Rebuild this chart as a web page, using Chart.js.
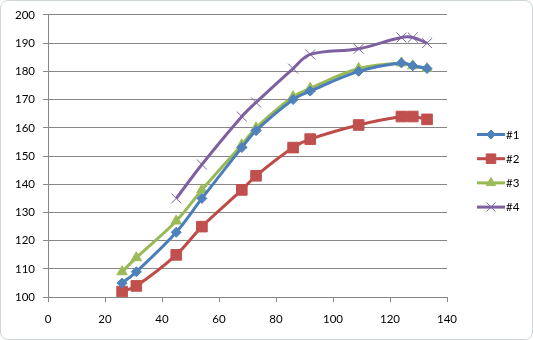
<!DOCTYPE html>
<html><head><meta charset="utf-8">
<script src="https://cdn.jsdelivr.net/npm/chart.js@4/dist/chart.umd.min.js"></script>
<style>
html,body{margin:0;padding:0;background:#fff;}
#wrap{position:relative;width:533px;height:340px;}
#frame{position:absolute;left:0;top:0;width:533px;height:340px;box-sizing:border-box;border:1px solid #CFD6D6;border-radius:8px;pointer-events:none;}
canvas{display:block}
</style></head><body>
<div id="wrap"><canvas id="c" width="533" height="340"></canvas><div id="frame"></div></div>
<script>
// ---- data ----
const seriesNames = ['#1', '#2', '#3', '#4'];
const xValues  = [26, 31, 45, 54, 68, 73, 86, 92, 109, 124, 128, 133];
const series1  = [105, 109, 123, 135, 153, 159, 170, 173, 180, 183, 182, 181];
const series2  = [102, 104, 115, 125, 138, 143, 153, 156, 161, 164, 164, 163];
const series3  = [109, 114, 127, 138, 154, 160, 171, 174, 181, 183, 182, 181];
const xValues4 = [45, 54, 68, 73, 86, 92, 109, 124, 128, 133];
const series4  = [135, 147, 164, 169, 181, 186, 188, 192, 192, 190];
const xTicks = [0, 20, 40, 60, 80, 100, 120, 140];
const yTicks = [100, 110, 120, 130, 140, 150, 160, 170, 180, 190, 200];

const FONT = 'Lato';
const FS = 11.5;
const GRID = '#878787';

function pts(xs, ys) { return xs.map((x, i) => ({x: x, y: ys[i]})); }

function mkDs(label, data, line, fill, style, radius, bw) {
  return {
    label: label, data: data, showLine: true,
    borderColor: line, backgroundColor: fill, borderWidth: 3,
    tension: 0.35,
    pointStyle: style, pointRadius: radius, pointHoverRadius: radius,
    pointBackgroundColor: fill, pointBorderColor: style === 'crossRot' ? line : fill,
    pointBorderWidth: bw
  };
}

const datasets = [
  mkDs(seriesNames[0], pts(xValues, series1), '#4A7EBB', '#4F81BD', 'rectRot', 5, 1),
  mkDs(seriesNames[1], pts(xValues, series2), '#BE4B48', '#C0504D', 'rect', 7.5, 1),
  mkDs(seriesNames[2], pts(xValues, series3), '#98B954', '#9BBB59', 'triangle', 6, 1),
  mkDs(seriesNames[3], pts(xValues4, series4), '#7D60A0', '#8064A2', 'crossRot', 7, 1)
];

const sideLegend = {
  id: 'sideLegend',
  afterDraw(chart) {
    const ctx = chart.ctx;
    const top = 134.5, step = 24.2, x0 = 477, x1 = 505;
    chart.data.datasets.forEach((ds, i) => {
      const y = top + i * step;
      ctx.save();
      ctx.strokeStyle = ds.borderColor;
      ctx.lineWidth = 3;
      ctx.beginPath(); ctx.moveTo(x0, y); ctx.lineTo(x1, y); ctx.stroke();
      ctx.fillStyle = ds.pointBackgroundColor;
      ctx.strokeStyle = ds.pointBorderColor;
      ctx.lineWidth = ds.pointBorderWidth;
      Chart.helpers.drawPoint(ctx, {pointStyle: ds.pointStyle, radius: ds.pointRadius * 0.9,
        borderWidth: ds.pointBorderWidth, rotation: 0}, (x0 + x1) / 2, y);
      ctx.fillStyle = '#000';
      ctx.font = FS + 'px ' + FONT;
      ctx.textBaseline = 'middle';
      ctx.textAlign = 'left';
      ctx.fillText(ds.label, x1 + 1, y + 0.5);
      ctx.restore();
    });
  }
};

new Chart(document.getElementById('c'), {
  type: 'scatter',
  data: { datasets: datasets },
  options: {
    responsive: false, animation: false, devicePixelRatio: 1,
    layout: { padding: { left: 7, top: 7.5, right: 86, bottom: 4 } },
    plugins: { legend: { display: false }, tooltip: { enabled: false } },
    scales: {
      x: {
        type: 'linear', min: xTicks[0], max: xTicks[xTicks.length - 1],
        afterBuildTicks: (s) => { s.ticks = xTicks.map(v => ({value: v})); },
        grid: { display: true, drawOnChartArea: false, drawTicks: true, tickLength: 5, color: GRID, lineWidth: 1 },
        border: { display: true, color: GRID, width: 1 },
        ticks: { color: '#000', font: { family: FONT, size: FS }, padding: 10, maxRotation: 0 }
      },
      y: {
        type: 'linear', min: yTicks[0], max: yTicks[yTicks.length - 1],
        afterBuildTicks: (s) => { s.ticks = yTicks.map(v => ({value: v})); },
        grid: { display: true, drawTicks: true, tickLength: 5, color: GRID, lineWidth: 1 },
        border: { display: true, color: GRID, width: 1 },
        ticks: { color: '#000', font: { family: FONT, size: FS }, padding: 8 }
      }
    }
  },
  plugins: [sideLegend]
});
</script>
</body></html>
